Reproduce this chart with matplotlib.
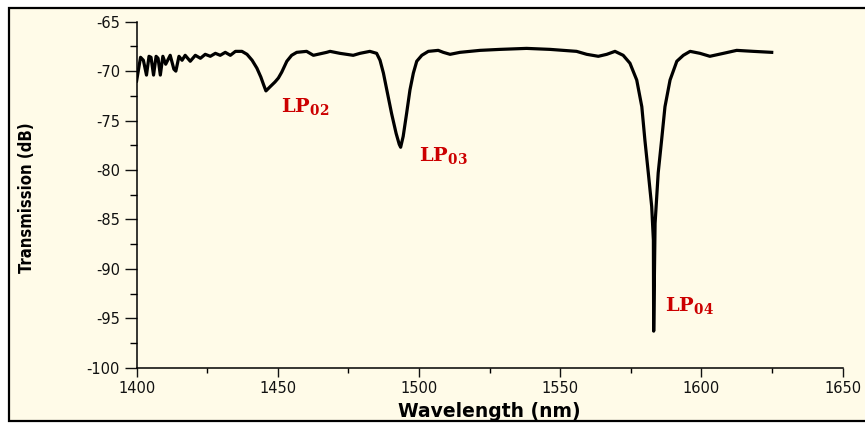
import matplotlib
matplotlib.use("Agg")
import matplotlib.pyplot as plt
from matplotlib.patches import Rectangle

# transmission spectrum
wavelength_nm = [
    1400.0, 1400.7, 1401.4, 1402.4, 1403.5, 1404.4, 1405.1, 1406.0, 1406.9, 1407.6,
    1408.4, 1409.3, 1410.3, 1411.9, 1413.2, 1413.9, 1415.0, 1416.1, 1417.2, 1419.0,
    1420.8, 1422.6, 1424.3, 1426.1, 1427.9, 1429.6, 1431.4, 1433.2, 1435.0, 1437.3,
    1439.1, 1440.9, 1442.6, 1444.0, 1445.0, 1445.8, 1447.2, 1449.0, 1450.2, 1451.4,
    1453.2, 1454.9, 1456.7, 1460.2, 1462.6, 1467.3, 1468.5, 1472.0, 1476.7, 1479.1,
    1482.6, 1485.0, 1486.2, 1487.4, 1488.6, 1490.3, 1491.9, 1493.0, 1493.5, 1494.4,
    1495.6, 1496.8, 1498.0, 1499.2, 1501.0, 1503.3, 1506.8, 1508.6, 1511.0, 1514.5,
    1521.6, 1528.7, 1538.1, 1546.4, 1555.8, 1559.4, 1563.5, 1566.5, 1569.4, 1572.3,
    1574.7, 1577.1, 1578.9, 1580.0, 1581.2, 1582.4, 1583.0, 1583.1, 1583.6, 1584.7,
    1585.9, 1587.1, 1588.9, 1591.3, 1593.6, 1596.0, 1599.5, 1603.0, 1607.8, 1612.5,
    1618.4, 1624.9,
]
transmission_db = [
    -71.0, -69.8, -68.6, -68.9, -70.4, -68.5, -68.6, -70.4, -68.5, -68.7,
    -70.4, -68.5, -69.3, -68.4, -69.8, -70.0, -68.5, -68.9, -68.4, -69.0,
    -68.4, -68.7, -68.3, -68.5, -68.2, -68.4, -68.1, -68.4, -68.0, -68.0,
    -68.3, -68.9, -69.7, -70.6, -71.4, -72.0, -71.6, -71.1, -70.7, -70.1,
    -69.0, -68.4, -68.1, -68.0, -68.4, -68.1, -68.0, -68.2, -68.4, -68.2,
    -68.0, -68.2, -68.9, -70.2, -71.9, -74.3, -76.3, -77.4, -77.7, -76.6,
    -74.3, -71.9, -70.2, -69.0, -68.4, -68.0, -67.9, -68.1, -68.3, -68.1,
    -67.9, -67.8, -67.7, -67.8, -68.0, -68.3, -68.5, -68.3, -68.0, -68.4,
    -69.2, -70.9, -73.6, -77.0, -80.3, -83.7, -87.1, -96.3, -85.4, -80.3,
    -77.0, -73.6, -70.9, -69.0, -68.4, -68.0, -68.2, -68.5, -68.2, -67.9,
    -68.0, -68.1,
]

# mode labels placed at (wavelength, dB of baseline)
mode_labels = [r"$\mathbf{LP_{02}}$", r"$\mathbf{LP_{03}}$", r"$\mathbf{LP_{04}}$"]
mode_x = [1451.0, 1500.1, 1587.1]
mode_y = [-74.1, -79.1, -94.3]

x_ticks = [1400, 1450, 1500, 1550, 1600, 1650]
y_ticks = [-65, -70, -75, -80, -85, -90, -95, -100]

cream = "#fffbe8"

plt.rcParams["font.family"] = "DejaVu Sans"
plt.rcParams["mathtext.fontset"] = "custom"
plt.rcParams["mathtext.bf"] = "DejaVu Serif:bold"
plt.rcParams["mathtext.rm"] = "DejaVu Serif"

fig = plt.figure(figsize=(8.65, 4.23), dpi=100, facecolor="white")
fig.patches.append(Rectangle((9 / 865, 2 / 423), 1.0, 413 / 423, transform=fig.transFigure,
                             facecolor=cream, edgecolor="black", linewidth=1.6, zorder=-10))

ax = fig.add_axes([136.6 / 865, 1 - 367.7 / 423, 706 / 865, 346 / 423])
ax.set_zorder(5)
ax.set_facecolor(cream)
ax.plot(wavelength_nm, transmission_db, color="black", linewidth=2.3, solid_joinstyle="round")

ax.set_xlim(1400, 1650)
ax.set_ylim(-100, -65)
ax.set_xticks(x_ticks)
ax.set_xticks([t + 25 for t in x_ticks[:-1]], minor=True)
ax.set_yticks(y_ticks)
ax.set_yticks([t - 2.5 for t in y_ticks[:-1]], minor=True)
ax.set_yticklabels([str(t) for t in y_ticks])

for side in ("top", "right"):
    ax.spines[side].set_visible(False)
for side in ("left", "bottom"):
    ax.spines[side].set_linewidth(1.1)

# y ticks run a bit longer than the x ticks
ax.tick_params(which="major", direction="out", width=1.0, labelsize=10.5, pad=3, colors="#111111")
ax.tick_params(axis="x", which="major", length=6.5)
ax.tick_params(axis="y", which="major", length=9.0)
ax.tick_params(axis="x", which="minor", direction="out", length=3.6, width=1.0)
ax.tick_params(axis="y", which="minor", direction="out", length=5.0, width=1.0)

ax.set_xlabel("Wavelength (nm)", fontsize=13.5, fontweight="bold")
ax.xaxis.set_label_coords(0.5, -0.098)
ax.set_ylabel("Transmission (dB)", fontsize=12, fontweight="semibold", fontstretch="condensed")
ax.yaxis.set_label_coords((36 - 136.6) / 706, 0.49)

for label, x, y in zip(mode_labels, mode_x, mode_y):
    ax.text(x, y, label, color="#cc0000", fontsize=14, ha="left", va="baseline")

fig.savefig("out.png", dpi=100, facecolor=fig.get_facecolor())
